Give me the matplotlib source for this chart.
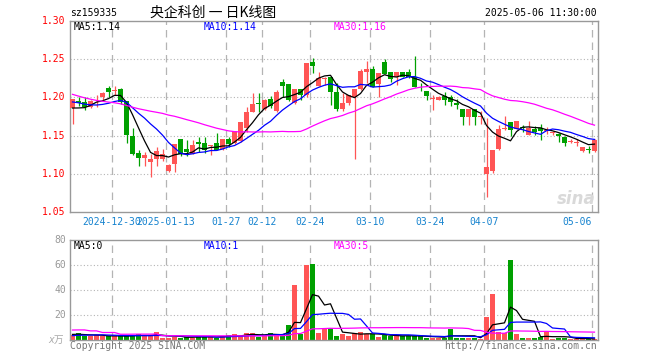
import numpy as np
import pandas as pd
import matplotlib
matplotlib.use("Agg")
import matplotlib.pyplot as plt
from matplotlib.transforms import blended_transform_factory

# ============== data ==============
holidays = ["2025-01-01", "2025-01-28", "2025-01-29", "2025-01-30", "2025-01-31",
            "2025-02-03", "2025-02-04", "2025-04-04", "2025-05-01", "2025-05-02",
            "2025-05-05"]
dates = [d for d in pd.bdate_range("2024-12-19", "2025-05-06")
         if d.strftime("%Y-%m-%d") not in holidays]

opens = [1.1855, 1.1950, 1.1940, 1.1880, 1.1960, 1.2000, 1.2120, 1.2080, 1.2105, 1.1950,
         1.1490, 1.1272, 1.1206, 1.1153, 1.1193, 1.1193, 1.1035, 1.1123, 1.1452, 1.1324,
         1.1263, 1.1417, 1.1408, 1.1365, 1.1408, 1.1320, 1.1452, 1.1408, 1.1430, 1.1605,
         1.1807, 1.1925, 1.1847, 1.1974, 1.1820, 1.2197, 1.2175, 1.1921, 1.2105, 1.2031,
         1.2469, 1.2153, 1.2246, 1.2263, 1.2066, 1.1842, 1.1921, 1.2000, 1.2110, 1.2338,
         1.2373, 1.2175, 1.2460, 1.2329, 1.2272, 1.2329, 1.2338, 1.2272, 1.2127, 1.2083,
         1.1984, 1.1969, 1.2018, 1.2000, 1.1921, 1.1846, 1.1746, 1.1846, 1.1743, 1.0991,
         1.1035, 1.1320, 1.1587, 1.1680, 1.1592, 1.1614, 1.1504, 1.1592, 1.1605, 1.1560,
         1.1535, 1.1520, 1.1485, 1.1419, 1.1404, 1.1297, 1.1322, 1.1301]
highs = [1.1985, 1.2000, 1.2000, 1.1970, 1.2030, 1.2070, 1.2150, 1.2150, 1.2120, 1.1950,
         1.1605, 1.1307, 1.1290, 1.1263, 1.1350, 1.1324, 1.1132, 1.1390, 1.1452, 1.1448,
         1.1448, 1.1480, 1.1480, 1.1377, 1.1535, 1.1452, 1.1480, 1.1557, 1.1675, 1.1877,
         1.2061, 1.2061, 1.1978, 1.2018, 1.2096, 1.2241, 1.2175, 1.2105, 1.2105, 1.2447,
         1.2513, 1.2338, 1.2272, 1.2263, 1.2184, 1.2053, 1.2031, 1.2105, 1.2368, 1.2482,
         1.2412, 1.2316, 1.2504, 1.2329, 1.2329, 1.2329, 1.2368, 1.2544, 1.2193, 1.2083,
         1.2031, 1.2018, 1.2075, 1.2031, 1.1974, 1.1846, 1.1846, 1.1846, 1.1820, 1.1728,
         1.1316, 1.1636, 1.1754, 1.1680, 1.1689, 1.1636, 1.1693, 1.1623, 1.1658, 1.1616,
         1.1560, 1.1530, 1.1490, 1.1450, 1.1450, 1.1356, 1.1363, 1.1450]
lows = [1.1658, 1.1890, 1.1835, 1.1860, 1.1880, 1.1970, 1.2010, 1.2030, 1.1920, 1.1403,
        1.1241, 1.1100, 1.1100, 1.0956, 1.1100, 1.1167, 1.1026, 1.1026, 1.1228, 1.1228,
        1.1254, 1.1285, 1.1270, 1.1241, 1.1307, 1.1307, 1.1350, 1.1395, 1.1420, 1.1553,
        1.1807, 1.1807, 1.1838, 1.1855, 1.1811, 1.2000, 1.1956, 1.1912, 1.1969, 1.2010,
        1.2316, 1.2153, 1.2162, 1.1900, 1.1825, 1.1816, 1.1900, 1.1197, 1.2097, 1.2193,
        1.2140, 1.2004, 1.2307, 1.2197, 1.2162, 1.2263, 1.2259, 1.2140, 1.2088, 1.1965,
        1.1838, 1.1960, 1.1899, 1.1886, 1.1842, 1.1636, 1.1636, 1.1645, 1.1658, 1.0693,
        1.1013, 1.1307, 1.1570, 1.1490, 1.1592, 1.1553, 1.1504, 1.1513, 1.1447, 1.1520,
        1.1510, 1.1420, 1.1362, 1.1397, 1.1362, 1.1290, 1.1275, 1.1288]
closes = [1.1974, 1.1925, 1.1880, 1.1950, 1.1963, 1.2060, 1.2070, 1.2090, 1.1945, 1.1504,
          1.1263, 1.1206, 1.1241, 1.1189, 1.1294, 1.1263, 1.1110, 1.1386, 1.1263, 1.1290,
          1.1373, 1.1386, 1.1307, 1.1368, 1.1307, 1.1452, 1.1395, 1.1557, 1.1675, 1.1807,
          1.1912, 1.1912, 1.1965, 1.1890, 1.2075, 1.2153, 1.1965, 1.2105, 1.2031, 1.2447,
          1.2417, 1.2259, 1.2250, 1.2075, 1.1842, 1.1930, 1.2031, 1.2105, 1.2346, 1.2373,
          1.2140, 1.2316, 1.2307, 1.2241, 1.2329, 1.2263, 1.2272, 1.2140, 1.2118, 1.2022,
          1.1987, 1.2000, 1.1965, 1.1934, 1.1895, 1.1746, 1.1846, 1.1737, 1.1746, 1.1088,
          1.1316, 1.1583, 1.1592, 1.1579, 1.1689, 1.1605, 1.1605, 1.1548, 1.1561, 1.1563,
          1.1537, 1.1490, 1.1406, 1.1422, 1.1407, 1.1354, 1.1318, 1.1441]
# volume in 万
volumes = [4.0, 5.5, 3.0, 3.5, 4.0, 3.0, 3.0, 3.0, 3.0, 3.5,
           4.0, 4.8, 3.0, 3.0, 6.4, 2.0, 2.0, 2.5, 2.0, 2.5,
           2.0, 3.0, 2.5, 2.5, 2.0, 3.0, 4.0, 4.5, 3.0, 5.5,
           5.5, 2.7, 4.0, 5.5, 4.5, 4.5, 12.0, 44.0, 4.5, 60.0,
           61.0, 6.0, 8.5, 9.3, 3.2, 4.5, 3.5, 5.6, 6.7, 4.5,
           4.5, 2.7, 4.0, 3.5, 3.2, 3.2, 3.2, 3.2, 3.2, 2.0,
           2.0, 2.0, 2.0, 8.8, 2.0, 2.0, 2.0, 2.0, 1.1, 18.5,
           37.0, 6.1, 5.9, 64.0, 4.8, 2.0, 2.0, 2.0, 2.4, 6.1,
           0.8, 1.9, 1.9, 0.8, 0.8, 0.8, 1.2, 0.8]

# sessions before the window, only used so the moving averages start where the chart's do
pre_close = [1.262, 1.255, 1.249, 1.244, 1.241, 1.238, 1.236, 1.235, 1.215, 1.196,
             1.180, 1.172, 1.168, 1.171, 1.170, 1.178, 1.185, 1.190, 1.196, 1.199,
             1.203, 1.206, 1.204, 1.199, 1.198, 1.192, 1.186, 1.180, 1.175]
pre_volume = [3.2, 2.8, 27.0, 3.4, 42.0, 3.1, 2.9, 45.0, 3.3, 2.7,
              3.0, 3.2, 2.9, 3.1, 42.0, 3.0, 2.8, 3.3, 3.1, 2.9,
              2.6, 2.4, 2.5, 2.7, 2.3, 4.8, 4.4, 4.7, 4.5]

tick_dates = ["2024-12-30", "2025-01-13", "2025-01-27", "2025-02-12", "2025-02-24",
              "2025-03-10", "2025-03-24", "2025-04-07", "2025-05-06"]
tick_labels = ["2024-12-30", "2025-01-13", "01-27", "02-12", "02-24",
               "03-10", "03-24", "04-07", "05-06"]
price_ticks = [1.30, 1.25, 1.20, 1.15, 1.10, 1.05]
vol_ticks = [80, 60, 40, 20]
ma_periods = [5, 10, 30]
ma_colors = ["#000000", "#0000ff", "#ff00ff"]
price_ma_text = ["MA5:1.14", "MA10:1.14", "MA30:1.16"]
vol_ma_text = ["MA5:0", "MA10:1", "MA30:5"]

# ============== plotting ==============
UP, DOWN = "#ff5555", "#00a000"
GRID = "#b4b4b4"
MONO = "DejaVu Sans Mono"

W, H = 660, 360
fig = plt.figure(figsize=(W / 100, H / 100), dpi=100)


def fx(x):
    return x / W


def fy(y):
    return 1 - y / H


ax = fig.add_axes([fx(70), fy(212), fx(598) - fx(70), fy(21) - fy(212)])
axv = fig.add_axes([fx(70), fy(340), fx(598) - fx(70), fy(240) - fy(340)])

n = len(closes)
idx = np.arange(n)
o, h, l, c, v = map(np.array, (opens, highs, lows, closes, volumes))
up = c >= o
cols = np.where(up, UP, DOWN)
x0 = -2.5 / 6

for a in (ax, axv):
    a.set_xlim(x0, x0 + n)
    a.set_xticks([])
    a.set_yticks([])
    for s in a.spines.values():
        s.set_color("#999999")
        s.set_linewidth(1.0)

ax.set_ylim(1.05, 1.30)
axv.set_ylim(0, 80)

# grid
grid_idx = [dates.index(pd.Timestamp(d)) for d in tick_dates]
for a in (ax, axv):
    for gi in grid_idx:
        a.axvline(gi + x0, color=GRID, lw=0.9, ls=(0, (6, 4)), zorder=0)
for p in price_ticks[1:-1]:
    ax.axhline(p, color=GRID, lw=0.8, ls=(0, (1, 2)), zorder=0)
for t in vol_ticks[1:]:
    axv.axhline(t, color=GRID, lw=0.8, ls=(0, (1, 2)), zorder=0)

# candles
ax.vlines(idx, l, h, colors=cols, lw=0.9, zorder=2)
body = np.maximum(np.abs(c - o), 0.0011)
ax.bar(idx, body, bottom=np.minimum(o, c), width=0.75, color=cols, lw=0, zorder=3)

# volume
axv.bar(idx, v, width=0.75, color=cols, lw=0, zorder=2)

# moving averages
all_close = pd.Series(pre_close + closes)
all_vol = pd.Series(pre_volume + volumes)
for p, col in zip(ma_periods, ma_colors):
    ma = all_close.rolling(p).mean().to_numpy()[len(pre_close):]
    ax.plot(idx, ma, color=col, lw=0.9, zorder=4)
    mv = all_vol.rolling(p).mean().to_numpy()[len(pre_volume):]
    axv.plot(idx, mv, color=col, lw=0.9, zorder=4)

# axis labels
for p in price_ticks:
    ax.text(-0.008, p, f"{p:.2f}", transform=blended_transform_factory(ax.transAxes, ax.transData),
            ha="right", va="center", color="#ff0000", fontsize=7, family=MONO)
for t in vol_ticks:
    axv.text(-0.008, t, str(t), transform=blended_transform_factory(axv.transAxes, axv.transData),
             ha="right", va="center", color="#999999", fontsize=7, family=MONO)
fig.text(fx(64), fy(340), "x万", ha="right", va="center", color="#aaaaaa", fontsize=7,
         style="italic", family=[MONO, "Noto Sans CJK SC"])

xt = blended_transform_factory(ax.transData, ax.transAxes)
for gi, lab in zip(grid_idx, tick_labels):
    last = gi == grid_idx[-1]
    ax.text(gi + x0 if last else gi + x0, -0.05, lab, transform=xt,
            ha="right" if last else "center", va="center",
            color="#1683cf", fontsize=7, family=MONO)

# MA legends
for xp, txt, col in zip([74, 204, 334], price_ma_text, ma_colors):
    fig.text(fx(xp), fy(26.5), txt, ha="left", va="center", color=col, fontsize=7, family=MONO)
for xp, txt, col in zip([74, 204, 334], vol_ma_text, ma_colors):
    fig.text(fx(xp), fy(246), txt, ha="left", va="center", color=col, fontsize=7, family=MONO)

# header / footer
fig.text(fx(70), fy(13.5), "sz159335", ha="left", va="center", fontsize=7, family=MONO)
fig.text(fx(213), fy(12.5), "央企科创 一 日K线图", ha="center", va="center", fontsize=10,
         family=["Noto Sans CJK SC", "DejaVu Sans"])
fig.text(fx(597), fy(13.5), "2025-05-06 11:30:00", ha="right", va="center", fontsize=7, family=MONO)
fig.text(fx(70), fy(346), "Copyright 2025 SINA.COM", ha="left", va="center",
         color="#777777", fontsize=7, family=MONO)
fig.text(fx(597), fy(346), "http://finance.sina.com.cn", ha="right", va="center",
         color="#777777", fontsize=7, family=MONO)
fig.text(fx(596), fy(204), "sina", ha="right", va="baseline", color="#d9d9d9",
         fontsize=12, style="italic", weight="bold", family="DejaVu Sans")

fig.savefig("out.png", dpi=100)
